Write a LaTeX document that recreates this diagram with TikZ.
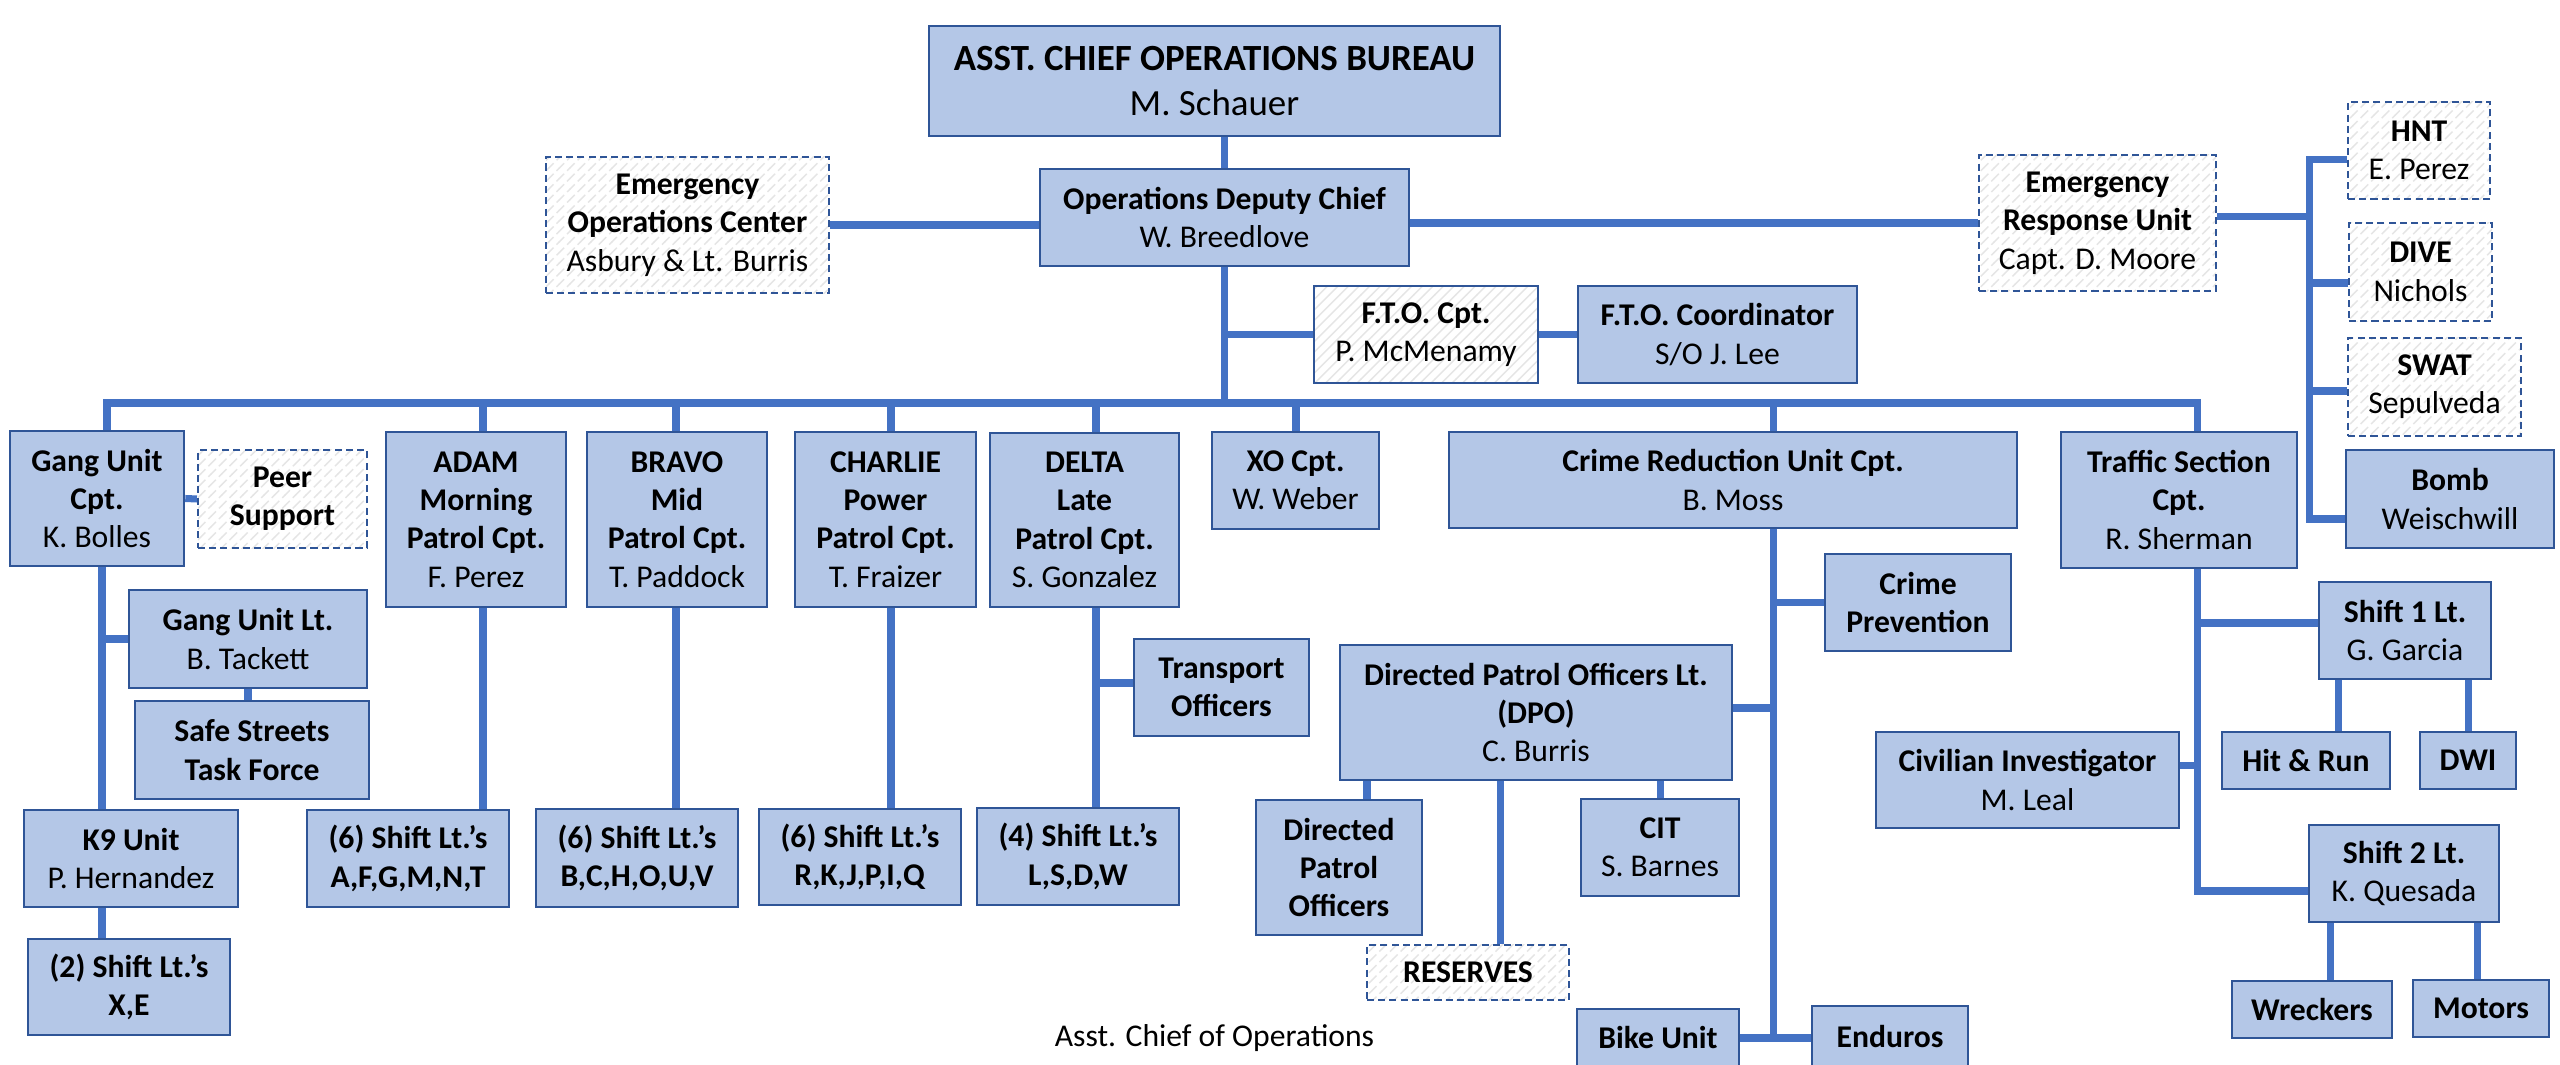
\documentclass[tikz,border=0pt]{standalone}
\usepackage{fontspec}
\setmainfont{Carlito}
\usetikzlibrary{patterns,backgrounds}
\definecolor{boxfill}{HTML}{B4C7E7}
\definecolor{boxline}{HTML}{2F5597}
\definecolor{conn}{HTML}{4472C4}
\begin{document}
\begin{tikzpicture}[x=0.01cm,y=-0.01cm,
  sz/.style 2 args={minimum width=#1cm,minimum height=#2cm},
  bx/.style={draw=boxline,line width=0.7pt,fill=boxfill,inner sep=0pt,align=center,text=black,font=\fontsize{9}{10.9}\selectfont},
  hx/.style={draw=boxline,line width=0.7pt,inner sep=0pt,align=center,text=black,font=\fontsize{9}{10.9}\selectfont,
     preaction={fill=white},pattern=north east lines,pattern color=black!10},
  dx/.style={hx,line width=0.6pt,dash pattern=on 2pt off 1.2pt},
  cn/.style={draw=conn,line width=2pt},
]
\useasboundingbox (0,0) rectangle (2560,1065);

% ---------- top ----------
\node[bx,sz={5.71}{1.10},font=\fontsize{10.5}{13}\selectfont] (title) at (1214.5,81) {\textbf{ASST. CHIEF OPERATIONS BUREAU}\\M. Schauer};
\node[bx,sz={3.69}{0.97}] (deputy) at (1224.5,217.5) {\textbf{Operations Deputy Chief}\\W. Breedlove};
\node[dx,sz={2.83}{1.36}] (eoc) at (687.5,225) {\textbf{Emergency}\\\textbf{Operations Center}\\Asbury \& Lt. Burris};
\node[dx,sz={2.37}{1.36}] (eru) at (2097.5,223) {\textbf{Emergency}\\\textbf{Response Unit}\\Capt. D. Moore};
\node[dx,sz={1.42}{0.97}] (hnt) at (2419,150.5) {\textbf{HNT}\\E. Perez};
\node[dx,sz={1.43}{0.98}] (dive) at (2420.5,272) {\textbf{DIVE}\\Nichols};
\node[dx,sz={1.73}{0.98}] (swat) at (2434.5,387) {\textbf{SWAT}\\Sepulveda};
\node[bx,sz={2.08}{0.98}] (bomb) at (2450,499) {\textbf{Bomb}\\Weischwill};
\node[hx,sz={2.24}{0.97}] (fto) at (1426,334.5) {\textbf{F.T.O. Cpt.}\\P. McMenamy};
\node[bx,sz={2.79}{0.97}] (ftoc) at (1717.5,334.5) {\textbf{F.T.O. Coordinator}\\S/O J. Lee};

% ---------- gang ----------
\node[bx,sz={1.74}{1.35}] (gang) at (97,498.5) {\textbf{Gang Unit}\\\textbf{Cpt.}\\K. Bolles};
\node[dx,sz={1.69}{0.98}] (peer) at (282.5,499) {\textbf{Peer}\\\textbf{Support}};
\node[bx,sz={2.38}{0.98}] (ganglt) at (248,639) {\textbf{Gang Unit Lt.}\\B. Tackett};
\node[bx,sz={2.34}{0.98}] (safe) at (252,750) {\textbf{Safe Streets}\\\textbf{Task Force}};
\node[bx,sz={2.14}{0.97}] (k9) at (131,858.5) {\textbf{K9 Unit}\\P. Hernandez};
\node[bx,sz={2.02}{0.96}] (sX) at (129,987) {\textbf{(2) Shift Lt.’s}\\\textbf{X,E}};

% ---------- patrols ----------
\node[bx,sz={1.80}{1.75}] (adam) at (476,519.5) {\textbf{ADAM}\\\textbf{Morning}\\\textbf{Patrol Cpt.}\\F. Perez};
\node[bx,sz={1.80}{1.75}] (bravo) at (677,519.5) {\textbf{BRAVO}\\\textbf{Mid}\\\textbf{Patrol Cpt.}\\T. Paddock};
\node[bx,sz={1.81}{1.75}] (charlie) at (885.5,519.5) {\textbf{CHARLIE}\\\textbf{Power}\\\textbf{Patrol Cpt.}\\T. Fraizer};
\node[bx,sz={1.89}{1.74}] (delta) at (1084.5,520) {\textbf{DELTA}\\\textbf{Late}\\\textbf{Patrol Cpt.}\\S. Gonzalez};
\node[bx,sz={2.02}{0.97}] (sA) at (408,858.5) {\textbf{(6) Shift Lt.’s}\\\textbf{A,F,G,M,N,T}};
\node[bx,sz={2.02}{0.98}] (sB) at (637,858) {\textbf{(6) Shift Lt.’s}\\\textbf{B,C,H,O,U,V}};
\node[bx,sz={2.02}{0.96}] (sR) at (860,857) {\textbf{(6) Shift Lt.’s}\\\textbf{R,K,J,P,I,Q}};
\node[bx,sz={2.02}{0.97}] (sL) at (1078,856.5) {\textbf{(4) Shift Lt.’s}\\\textbf{L,S,D,W}};
\node[bx,sz={1.75}{0.97}] (transport) at (1221.5,687.5) {\textbf{Transport}\\\textbf{Officers}};
\node[bx,sz={1.67}{0.97}] (xo) at (1295.5,480.5) {\textbf{XO Cpt.}\\W. Weber};

% ---------- crime reduction ----------
\node[bx,sz={5.68}{0.96}] (cru) at (1733,480) {\textbf{Crime Reduction Unit Cpt.}\\B. Moss};
\node[bx,sz={1.86}{0.97}] (cp) at (1918,602.5) {\textbf{Crime}\\\textbf{Prevention}};
\node[bx,sz={3.92}{1.35}] (dpo) at (1536,712.5) {\textbf{Directed Patrol Officers Lt.}\\\textbf{(DPO)}\\C. Burris};
\node[bx,sz={1.66}{1.35}] (dpoff) at (1339,867.5) {\textbf{Directed}\\\textbf{Patrol}\\\textbf{Officers}};
\node[bx,sz={1.58}{0.97}] (cit) at (1660,847.5) {\textbf{CIT}\\S. Barnes};
\node[dx,sz={2.02}{0.55}] (res) at (1468,972.5) {\textbf{RESERVES}};
\node[bx,sz={1.62}{0.58}] (bike) at (1658,1038) {\textbf{Bike Unit}};
\node[bx,sz={1.56}{0.62}] (enduros) at (1890,1037) {\textbf{Enduros}};

% ---------- traffic ----------
\node[bx,sz={2.36}{1.36}] (traffic) at (2179,500) {\textbf{Traffic Section}\\\textbf{Cpt.}\\R. Sherman};
\node[bx,sz={1.72}{0.97}] (shift1) at (2405,630.5) {\textbf{Shift 1 Lt.}\\G. Garcia};
\node[bx,sz={1.68}{0.57}] (hr) at (2306,760.5) {\textbf{Hit \& Run}};
\node[bx,sz={0.96}{0.57}] (dwi) at (2468,760.5) {\textbf{DWI}};
\node[bx,sz={3.03}{0.96}] (civ) at (2027.5,780) {\textbf{Civilian Investigator}\\M. Leal};
\node[bx,sz={1.90}{0.97}] (shift2) at (2404,873.5) {\textbf{Shift 2 Lt.}\\K. Quesada};
\node[bx,sz={1.60}{0.57}] (wreck) at (2312,1009.5) {\textbf{Wreckers}};
\node[bx,sz={1.36}{0.57}] (motors) at (2481,1008.5) {\textbf{Motors}};

\node[inner sep=0pt,font=\fontsize{9}{10.9}\selectfont] (caption) at (1214.5,1038) {Asst. Chief of Operations};

% ---------- connectors ----------
\coordinate (busL) at (107,403);
\coordinate (busR) at (2197,403);
\coordinate (dA) at (483,403);
\coordinate (dB) at (676,403);
\coordinate (dC) at (891,403);
\coordinate (dD) at (1096,403);
\coordinate (dX) at (1296,403);
\coordinate (dCRU) at (1773,403);
\coordinate (gv) at (102,0);
\coordinate (erubus) at (2311,0);
\coordinate (dpx) at (1367,0);
\coordinate (rsx) at (1500,0);

\begin{scope}[on background layer]
\draw[cn] (deputy.north) -- (deputy.north |- title.south);
\draw[cn] (eoc.east) -- (eoc.east -| deputy.west);
\draw[cn] (eru.west) -- (eru.west -| deputy.east);
\draw[cn] (deputy.south) -- (deputy.south |- busL);
\draw[cn] (fto.west) -- (fto.west -| deputy.south);
\draw[cn] (fto.east) -- (ftoc.west);
\draw[cn] ([yshift=0.06cm]eru.east) -- ([yshift=0.06cm]eru.east -| erubus);
\draw[cn] ([yshift=-0.09cm]hnt.west) -- ++(-0.37cm,0) |- ([yshift=-0.2cm]bomb.west);
\draw[cn] ([yshift=-0.11cm]dive.west) -- ++(-0.38cm,0);
\draw[cn] ([yshift=-0.04cm]swat.west) -- ++(-0.37cm,0);
% bus
\draw[cn] (gang.north -| busL) -- (busL) -- (busR) -- (busR |- traffic.north);
\draw[cn] (dA) -- (dA |- adam.north);
\draw[cn] (dB) -- (dB |- bravo.north);
\draw[cn] (dC) -- (dC |- charlie.north);
\draw[cn] (dD) -- (dD |- delta.north);
\draw[cn] (dX) -- (dX |- xo.north);
\draw[cn] (dCRU) -- (dCRU |- cru.north);
% gang
\draw[cn] (gang.east) -- (peer.west);
\draw[cn] (gang.south -| gv) -- (k9.north -| gv);
\draw[cn] (ganglt.west) -- (ganglt.west -| gv);
\draw[cn] (ganglt.south) -- (ganglt.south |- safe.north);
\draw[cn] (k9.south -| gv) -- (sX.north -| gv);
% patrols
\draw[cn] (adam.south -| dA) -- (sA.north -| dA);
\draw[cn] (bravo.south -| dB) -- (sB.north -| dB);
\draw[cn] (charlie.south -| dC) -- (sR.north -| dC);
\draw[cn] (delta.south -| dD) -- (sL.north -| dD);
\draw[cn] ([yshift=0.045cm]transport.west) -- ([yshift=0.045cm]transport.west -| dD);
% crime reduction
\draw[cn] (cru.south -| dCRU) -- (dCRU |- bike.east);
\draw[cn] (cp.west) -- (cp.west -| dCRU);
\draw[cn] ([yshift=0.045cm]dpo.east) -- ([yshift=0.045cm]dpo.east -| dCRU);
\draw[cn] (bike.east) -- (bike.east -| enduros.west);
\draw[cn] (dpoff.north -| dpx) -- (dpo.south -| dpx);
\draw[cn] (cit.north) -- (cit.north |- dpo.south);
\draw[cn] (res.north -| rsx) -- (dpo.south -| rsx);
% traffic
\draw[cn] (traffic.south -| busR) |- ([yshift=-0.175cm]shift2.west);
\draw[cn] ([yshift=0.075cm]shift1.west) -- ++(-1.22cm,0);
\draw[cn] ([yshift=0.14cm]civ.east) -- ++(0.18cm,0);
\draw[cn] ([xshift=0.32cm]hr.north) -- ++(0,0.53cm);
\draw[cn] (dwi.north) -- (dwi.north |- shift1.south);
\draw[cn] ([xshift=0.18cm]wreck.north) -- ++(0,0.59cm);
\draw[cn] ([xshift=-0.04cm]motors.north) -- ++(0,0.58cm);
\end{scope}
\end{tikzpicture}
\end{document}
